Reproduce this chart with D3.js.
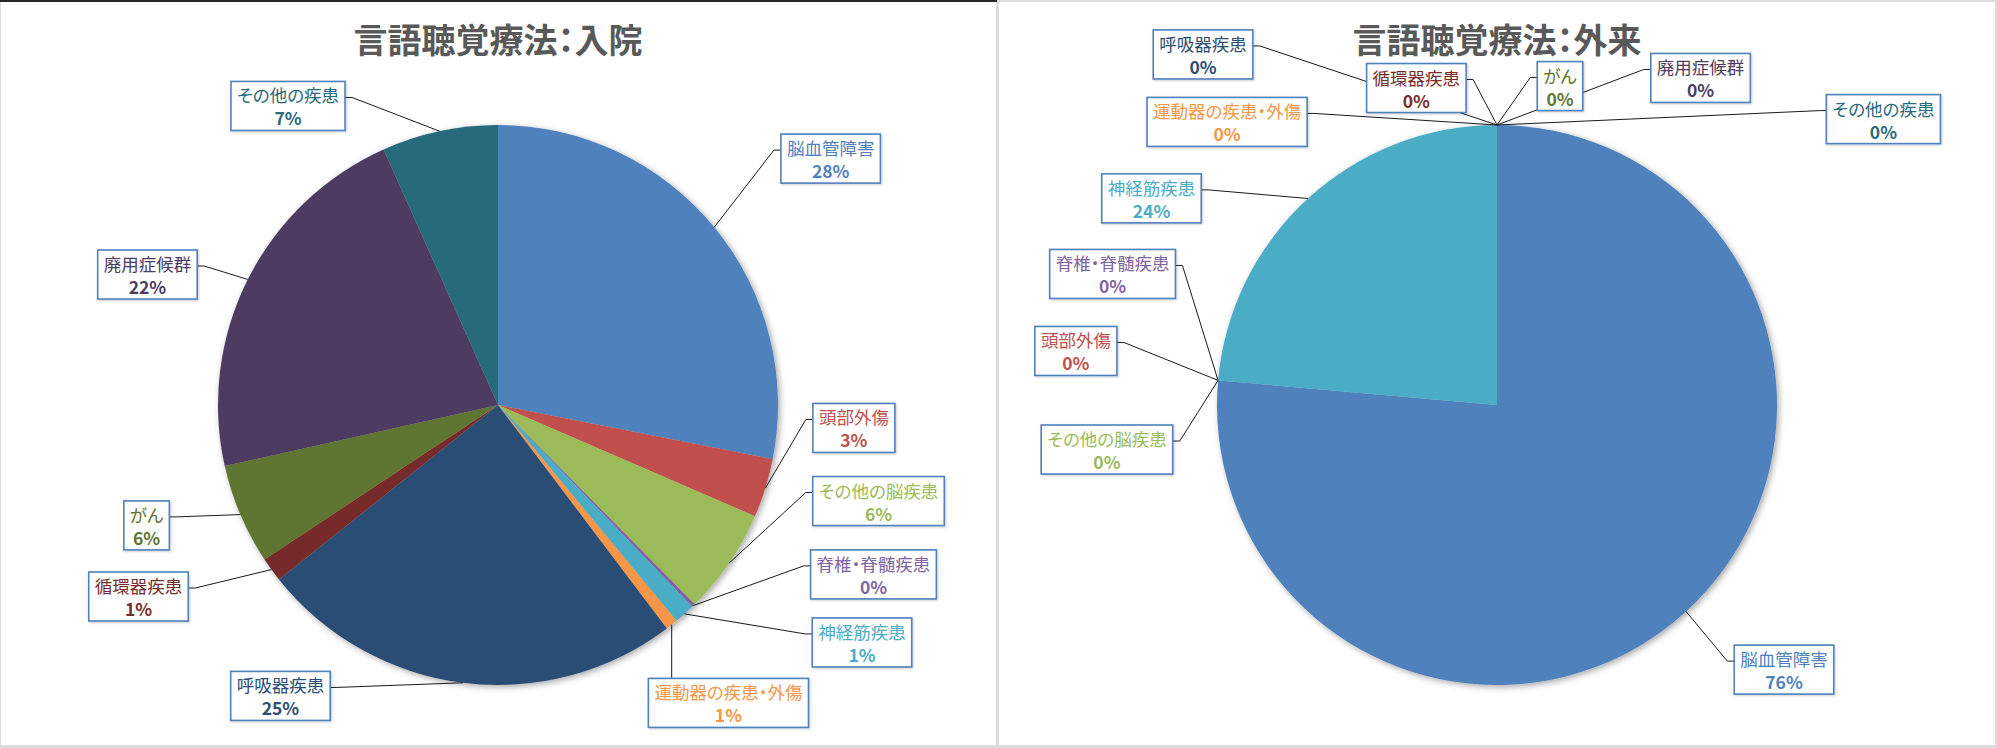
<!DOCTYPE html>
<html>
<head>
<meta charset="utf-8">
<script src="https://cdn.jsdelivr.net/npm/d3@7"></script>
<style>
    body { margin: 0; background: #fff; }
    svg { display: block; }
    text { font-family: "Noto Sans CJK JP", "Noto Sans", sans-serif; font-feature-settings: "palt"; }
</style>
</head>
<body>
<div id="chart"></div>
<script>
// Categories in slice order (clockwise from 12 o'clock)
const categories = ["脳血管障害", "頭部外傷", "その他の脳疾患", "脊椎・脊髄疾患", "神経筋疾患",
    "運動器の疾患・外傷", "呼吸器疾患", "循環器疾患", "がん", "廃用症候群", "その他の疾患"];

// Share of patients (%)
const inpatientValues = [28.1, 3.4, 6.1, 0.2, 1.2, 0.7, 24.6, 1.4, 5.8, 21.8, 6.7];
const outpatientValues = [76.4, 0, 0, 0, 23.6, 0, 0, 0, 0, 0, 0];

const titles = ["言語聴覚療法：入院", "言語聴覚療法：外来"];

const sliceColors = ["#4F81BD", "#C0504D", "#9BBB59", "#8064A2", "#4BACC6", "#F79646",
    "#2C4D75", "#772C2A", "#5F7530", "#4D3B62", "#276A7C"];

// Where the label boxes sit: centre offset from the pie centre, in radii
const inpatientLabelPos = [[1.188, -0.880], [1.271, 0.082], [1.359, 0.343], [1.341, 0.605], [1.300, 0.848],
    [0.823, 1.064], [-0.777, 1.039], [-1.284, 0.684], [-1.255, 0.430], [-1.252, -0.466], [-0.750, -1.068]];
const outpatientLabelPos = [[1.025, 0.945], [-1.504, -0.193], [-1.393, 0.159], [-1.373, -0.468], [-1.234, -0.738],
    [-0.964, -1.011], [-1.050, -1.252], [-0.288, -1.132], [0.225, -1.139], [0.727, -1.168], [1.380, -1.021]];

const W = 1997, H = 748;
const radius = 280;
const cy = 405;

const color = d3.scaleOrdinal(categories, sliceColors);
const pct = d3.format(".0%");

const svg = d3.select("#chart")
    .append("svg")
    .attr("width", W)
    .attr("height", H);

// Soft shadow under the pies and boxes
const defs = svg.append("defs");
defs.append("filter").attr("id", "pieShadow")
    .attr("x", "-10%").attr("y", "-10%").attr("width", "120%").attr("height", "120%")
    .append("feDropShadow")
    .attr("dx", 2).attr("dy", 2).attr("stdDeviation", 3)
    .attr("flood-color", "#000").attr("flood-opacity", 0.35);
defs.append("filter").attr("id", "boxShadow")
    .attr("x", "-10%").attr("y", "-20%").attr("width", "130%").attr("height", "150%")
    .append("feDropShadow")
    .attr("dx", 1).attr("dy", 1).attr("stdDeviation", 1)
    .attr("flood-color", "#000").attr("flood-opacity", 0.2);

// Frames of the two chart panels
svg.append("rect").attr("width", W).attr("height", H).attr("fill", "#dcdcdc");
svg.append("rect").attr("x", 1).attr("y", 2).attr("width", 995).attr("height", 743).attr("fill", "#fff");
svg.append("rect").attr("x", 999).attr("y", 2).attr("width", 996).attr("height", 743).attr("fill", "#fff");
svg.append("rect").attr("x", 0).attr("y", 0).attr("width", 997).attr("height", 2).attr("fill", "#262626");

const pie = d3.pie().sort(null).value(d => d.value);
const arc = d3.arc().innerRadius(0).outerRadius(radius);

function drawPie(cx, title, values, labelPos) {
    const data = categories.map((name, i) => ({ name, value: values[i], pos: labelPos[i] }));
    const total = d3.sum(values);
    const arcs = pie(data);

    const g = svg.append("g").attr("transform", `translate(${cx}, ${cy})`);

    // Title
    svg.append("text")
        .attr("x", cx)
        .attr("y", 38)
        .attr("text-anchor", "middle")
        .attr("dominant-baseline", "central")
        .attr("font-size", 34)
        .attr("font-weight", "bold")
        .attr("fill", "#595959")
        .text(title);

    // Slices
    g.append("g")
        .attr("filter", "url(#pieShadow)")
        .selectAll("path")
        .data(arcs)
        .enter()
        .append("path")
        .attr("d", arc)
        .attr("fill", d => color(d.data.name));

    const lines = g.append("g");
    const labels = g.append("g");

    arcs.forEach(d => {
        const mid = (d.startAngle + d.endAngle) / 2;
        const ax = radius * Math.sin(mid);
        const ay = -radius * Math.cos(mid);
        const bx = d.data.pos[0] * radius;
        const by = d.data.pos[1] * radius;

        const lab = labels.append("g").attr("transform", `translate(${bx}, ${by})`);
        const rect = lab.append("rect").attr("fill", "#fff")
            .attr("stroke", "#4F81BD").attr("stroke-width", 1.6)
            .attr("filter", "url(#boxShadow)");
        const t1 = lab.append("text")
            .attr("y", -11)
            .attr("text-anchor", "middle")
            .attr("dominant-baseline", "central")
            .attr("font-size", 17.5)
            .attr("fill", color(d.data.name))
            .text(d.data.name);
        const t2 = lab.append("text")
            .attr("y", 12)
            .attr("text-anchor", "middle")
            .attr("dominant-baseline", "central")
            .attr("font-size", 17.5)
            .attr("font-weight", "bold")
            .attr("fill", color(d.data.name))
            .text(pct(d.data.value / total));

        const bw = Math.max(t1.node().getComputedTextLength(), t2.node().getComputedTextLength()) + 12;
        const bh = 49;
        rect.attr("x", -bw / 2).attr("y", -bh / 2).attr("width", bw).attr("height", bh);

        // Leader line from the slice to the box
        const x0 = bx - bw / 2, x1 = bx + bw / 2, y0 = by - bh / 2, y1 = by + bh / 2;
        const hookY = y0 + 16;
        let pts;
        if (ax < x0) pts = [[ax, ay], [x0 - 7, hookY], [x0, hookY]];
        else if (ax > x1) pts = [[ax, ay], [x1 + 7, hookY], [x1, hookY]];
        else if (ay < y0) pts = [[ax, ay], [ax, y0]];
        else pts = [[ax, ay], [ax, y1]];

        lines.append("path")
            .attr("d", d3.line()(pts))
            .attr("fill", "none")
            .attr("stroke", "#1a1a1a")
            .attr("stroke-width", 1);
    });
}

drawPie(498, titles[0], inpatientValues, inpatientLabelPos);
drawPie(1497, titles[1], outpatientValues, outpatientLabelPos);
</script>
</body>
</html>
